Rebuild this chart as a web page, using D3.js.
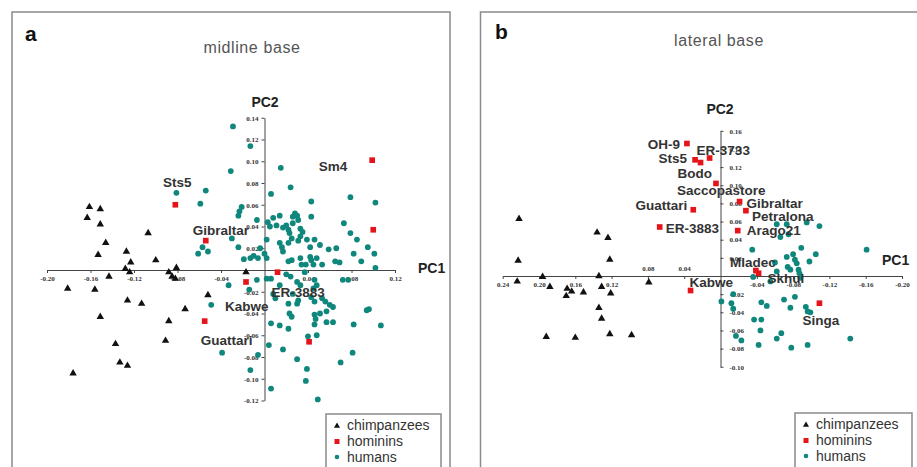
<!DOCTYPE html>
<html lang="en">
<head>
<meta charset="UTF-8">
<title>PCA cranial base</title>
<style>
    body { margin: 0; background: #fff; }
    svg { display: block; font-family: "Liberation Sans", Arial, sans-serif; }
    .frame { fill: none; stroke: #8a8a8a; stroke-width: 1.5px; }
    .axis path, .axis line { stroke: #444; stroke-width: 1px; }
    .axis text { font-family: "Liberation Serif", serif; font-weight: bold; font-size: 7px; fill: #333; }
    .lbl { font-size: 13.5px; font-weight: bold; fill: #333; }
    .pc { font-size: 14px; font-weight: bold; fill: #222; }
    .title { font-size: 16px; fill: #555; letter-spacing: 0.6px; }
    .letter { font-size: 21px; font-weight: bold; fill: #111; }
    .legend text { font-size: 14px; fill: #333; }
</style>
</head>
<body>

<svg width="917" height="467"></svg>

<script src="https://d3js.org/d3.v7.min.js"></script>

<script>
    // ---- panel a: midline base ----
    var aXTicks = [-0.20, -0.16, -0.12, -0.08, -0.04, 0.04, 0.08, 0.12];
    var aYTicks = [-0.12, -0.10, -0.08, -0.06, -0.04, -0.02, 0.02, 0.04, 0.06, 0.08, 0.10, 0.12, 0.14];

    var aChimps = [
        [-0.161, 0.058], [-0.151, 0.056], [-0.163, 0.048], [-0.151, 0.042], [-0.107, 0.034],
        [-0.146, 0.025], [-0.127, 0.017], [-0.153, 0.014], [-0.100, 0.009], [-0.123, 0.007],
        [-0.128, 0.001], [-0.124, -0.002], [-0.143, -0.006], [-0.088, -0.002], [-0.081, 0.002],
        [-0.085, -0.006], [-0.082, -0.008], [-0.181, -0.017], [-0.156, -0.018], [-0.126, -0.028],
        [-0.113, -0.031], [-0.073, -0.036], [-0.151, -0.043], [-0.088, -0.047], [-0.052, -0.023],
        [-0.091, -0.065], [-0.137, -0.068], [-0.133, -0.085], [-0.126, -0.088], [-0.176, -0.095],
        [-0.017, -0.002]
    ];

    var aHomininNames = ["Sm4", "Sts5", "Gibraltar", "", "ER-3883", "Kabwe", "Guattari", ""];
    var aHominins = [
        [0.099, 0.101], [-0.082, 0.060], [-0.054, 0.027], [0.100, 0.037],
        [0.012, -0.002], [-0.017, -0.011], [-0.055, -0.047], [0.041, -0.066]
    ];

    var aHumans = [
        [-0.029, 0.132], [-0.013, 0.114], [-0.031, 0.091], [0.015, 0.094], [0.024, 0.076],
        [0.006, 0.070], [-0.054, 0.073], [-0.081, 0.071], [-0.059, 0.061], [0.079, 0.067],
        [0.102, 0.062], [0.043, 0.063], [-0.021, 0.058], [-0.023, 0.054], [-0.024, 0.050],
        [-0.007, 0.046], [0.003, 0.044], [0.008, 0.048], [0.014, 0.050], [0.011, 0.041],
        [0.005, 0.040], [0.017, 0.039], [0.028, 0.052], [0.026, 0.049], [0.030, 0.050],
        [0.031, 0.046], [0.026, 0.043], [0.043, 0.049], [0.020, 0.041], [0.022, 0.037],
        [0.023, 0.034], [0.025, 0.029], [0.033, 0.038], [0.035, 0.035], [0.033, 0.031],
        [0.031, 0.027], [0.073, 0.043], [0.079, 0.034], [0.085, 0.028], [0.095, 0.021],
        [0.101, 0.015], [0.002, 0.028], [0.014, 0.025], [0.016, 0.021], [0.017, 0.017],
        [0.022, 0.025], [0.039, 0.028], [0.046, 0.028], [0.042, 0.021], [0.051, 0.023],
        [0.059, 0.019], [0.066, 0.020], [-0.030, 0.029], [-0.024, 0.021], [-0.010, 0.013],
        [-0.004, 0.020], [0.000, 0.015], [-0.057, 0.021], [-0.061, 0.015], [-0.052, 0.017],
        [-0.019, 0.010], [-0.013, 0.011], [-0.006, 0.011], [0.002, 0.011], [0.022, 0.008],
        [0.025, 0.009], [0.033, 0.011], [0.042, 0.012], [0.048, 0.011], [0.053, 0.005],
        [0.065, 0.008], [0.069, 0.007], [0.089, 0.008], [0.102, 0.002], [-0.033, -0.014],
        [0.002, -0.008], [0.006, -0.008], [0.008, -0.022], [0.010, -0.026], [0.020, -0.004],
        [0.024, -0.006], [0.030, -0.011], [0.033, -0.014], [0.046, -0.009], [0.048, -0.014],
        [0.037, -0.002], [0.072, -0.009], [0.077, -0.009], [0.014, -0.014], [0.026, -0.022],
        [0.031, -0.028], [0.030, -0.031], [0.022, -0.031], [0.043, -0.025], [0.046, -0.029],
        [0.053, -0.026], [0.056, -0.029], [0.060, -0.032], [0.063, -0.034], [0.045, -0.017],
        [-0.049, -0.032], [-0.014, -0.018], [0.057, -0.038], [0.051, -0.040], [0.023, -0.040],
        [0.025, -0.043], [0.046, -0.041], [0.047, -0.045], [0.094, -0.037], [0.096, -0.036],
        [0.057, -0.048], [0.063, -0.048], [0.006, -0.049], [0.014, -0.051], [0.022, -0.054],
        [0.046, -0.050], [0.082, -0.050], [0.107, -0.051], [0.017, -0.073], [0.004, -0.069],
        [0.040, -0.061], [0.048, -0.060], [-0.006, -0.078], [-0.039, -0.076], [0.030, -0.082],
        [0.070, -0.085], [0.081, -0.076], [-0.013, -0.092], [0.039, -0.091], [0.038, -0.102],
        [0.006, -0.109], [0.049, -0.119], [-0.007, -0.009], [0.034, 0.005], [0.038, 0.005],
        [0.043, 0.009], [0.045, 0.005], [0.082, 0.015]
    ];

    // ---- panel b: lateral base ----
    var bXTicks = [0.24, 0.20, 0.16, 0.12, 0.08, 0.04, -0.04, -0.08, -0.12, -0.16, -0.20];
    var bXTicksAbove = [0.08, 0.04];
    var bYTicks = [-0.10, -0.08, -0.06, -0.04, -0.02, 0.02, 0.04, 0.06, 0.08, 0.10, 0.12, 0.14, 0.16];

    var bChimps = [
        [0.222, 0.063], [0.136, 0.048], [0.124, 0.042], [0.223, 0.017], [0.122, 0.018],
        [0.224, -0.006], [0.196, -0.001], [0.188, -0.012], [0.169, -0.014], [0.164, -0.017],
        [0.170, -0.022], [0.151, -0.018], [0.134, 0.000], [0.131, -0.012], [0.121, -0.019],
        [0.079, -0.007], [0.134, -0.035], [0.131, -0.047], [0.192, -0.067], [0.160, -0.068],
        [0.122, -0.064], [0.098, -0.065]
    ];

    var bHomininNames = ["OH-9", "ER-3733", "Sts5", "Bodo", "Saccopastore", "Guattari", "ER-3883",
        "Gibraltar", "Petralona", "Arago21", "Mladec", "Skhul", "Kabwe", "Singa"];
    var bHominins = [
        [0.037, 0.146], [0.012, 0.130], [0.028, 0.128], [0.022, 0.125], [0.005, 0.102],
        [0.030, 0.073], [0.067, 0.054], [-0.021, 0.082], [-0.028, 0.072], [-0.019, 0.050],
        [-0.039, 0.006], [-0.042, 0.003], [0.033, -0.016], [-0.109, -0.030]
    ];

    var bHumans = [
        [-0.109, 0.055], [-0.062, 0.057], [-0.073, 0.057], [-0.095, 0.059], [-0.066, 0.043],
        [-0.075, 0.046], [-0.035, 0.029], [-0.089, 0.031], [-0.105, 0.024], [-0.080, 0.024],
        [-0.073, 0.021], [-0.082, 0.018], [-0.084, 0.014], [-0.098, 0.016], [-0.161, 0.029],
        [-0.074, 0.010], [-0.077, 0.007], [-0.086, 0.007], [-0.062, 0.005], [-0.087, 0.003],
        [-0.036, -0.001], [-0.055, -0.006], [-0.001, -0.028], [-0.012, -0.030], [-0.014, -0.036],
        [-0.014, -0.020], [-0.045, -0.029], [-0.051, -0.033], [-0.070, -0.026], [-0.082, -0.023],
        [-0.077, -0.035], [-0.094, -0.034], [-0.096, -0.039], [-0.099, -0.040], [-0.037, -0.048],
        [-0.045, -0.048], [-0.044, -0.060], [-0.067, -0.063], [-0.062, -0.069], [-0.017, -0.066],
        [-0.023, -0.071], [-0.042, -0.076], [-0.078, -0.079], [-0.096, -0.076], [-0.143, -0.069],
        [-0.088, -0.002], [-0.060, 0.015]
    ];

    var legendItems = ["chimpanzees", "hominins", "humans"];

    var teal = "#10877c", red = "#e5141b", black = "#111";
    var fmt = d => d.toFixed(2);

    var svg = d3.select("svg");
    var tri = d3.symbol().type(d3.symbolTriangle).size(24);
    var sq = d3.symbol().type(d3.symbolSquare).size(32);

    function drawPanel(p) {
        var g = svg.append("g");
        var x = d3.scaleLinear().domain(p.xDomain).range(p.xRange);
        var y = d3.scaleLinear().domain(p.yDomain).range(p.yRange);

        g.append("rect").attr("class", "frame")
            .attr("x", p.frame[0]).attr("y", p.frame[1])
            .attr("width", p.frame[2]).attr("height", p.frame[3]);

        g.append("text").attr("class", "letter")
            .attr("x", p.letterPos[0]).attr("y", p.letterPos[1]).text(p.letter);
        g.append("text").attr("class", "title").attr("text-anchor", "middle")
            .attr("x", p.titlePos[0]).attr("y", p.titlePos[1]).text(p.title);

        var xAxis = g.append("g").attr("class", "axis")
            .attr("transform", `translate(0, ${y(0)})`)
            .call(d3.axisBottom(x).tickValues(p.xTicks).tickFormat(fmt)
                .tickSize(3).tickSizeOuter(0).tickPadding(3));
        if (p.xAbove) {
            xAxis.selectAll(".tick").filter(d => p.xAbove.includes(d)).select("text")
                .attr("y", -5).attr("dy", "0");
        }

        var yAx = p.yRight ? d3.axisRight(y) : d3.axisLeft(y);
        g.append("g").attr("class", "axis")
            .attr("transform", `translate(${x(0)}, 0)`)
            .call(yAx.tickValues(p.yTicks).tickFormat(fmt)
                .tickSize(3).tickSizeOuter(0).tickPadding(p.yRight ? 6 : 3));

        g.selectAll(".axis text").style("font-size", "7px");

        g.append("text").attr("class", "pc")
            .attr("x", p.pc1Pos[0]).attr("y", p.pc1Pos[1]).text("PC1");
        g.append("text").attr("class", "pc").attr("text-anchor", "middle")
            .attr("x", p.pc2Pos[0]).attr("y", p.pc2Pos[1]).text("PC2");

        g.append("g").selectAll("path").data(p.chimps).join("path")
            .attr("d", tri).attr("fill", black)
            .attr("transform", d => `translate(${x(d[0])}, ${y(d[1])})`);

        g.append("g").selectAll("circle").data(p.humans).join("circle")
            .attr("r", 2.9).attr("fill", teal)
            .attr("cx", d => x(d[0])).attr("cy", d => y(d[1]));

        g.append("g").selectAll("path").data(p.hominins).join("path")
            .attr("d", sq).attr("fill", red)
            .attr("transform", d => `translate(${x(d[0])}, ${y(d[1])})`);

        g.append("g").selectAll("text").data(p.hominins).join("text")
            .attr("class", "lbl")
            .each(function (d, i) {
                var name = p.names[i];
                var o = p.offsets[name];
                if (!name || !o) return;
                d3.select(this)
                    .attr("x", x(d[0]) + o[0]).attr("y", y(d[1]) + o[1])
                    .attr("text-anchor", o[2]).text(name);
            });

        // legend
        var lg = g.append("g").attr("class", "legend");
        lg.append("rect").attr("class", "frame")
            .attr("x", p.legend[0]).attr("y", p.legend[1])
            .attr("width", p.legend[2]).attr("height", 70);
        legendItems.forEach(function (name, i) {
            var cy = p.legend[1] + 11 + i * 16;
            var cx = p.legend[0] + 11;
            if (i === 0) {
                lg.append("path").attr("d", d3.symbol().type(d3.symbolTriangle).size(16))
                    .attr("fill", black).attr("transform", `translate(${cx}, ${cy + 1})`);
            } else if (i === 1) {
                lg.append("rect").attr("x", cx - 2.5).attr("y", cy - 2).attr("width", 5).attr("height", 5)
                    .attr("fill", red);
            } else {
                lg.append("circle").attr("cx", cx).attr("cy", cy).attr("r", 2.3).attr("fill", teal);
            }
            lg.append("text").attr("x", cx + 10).attr("y", cy + 5).text(name);
        });
    }

    drawPanel({
        letter: "a", letterPos: [25, 41],
        title: "midline base", titlePos: [252, 53],
        frame: [12, 12, 438, 480],
        xDomain: [-0.20, 0.12], xRange: [47, 395],
        yDomain: [-0.12, 0.14], yRange: [400.5, 117.75],
        xTicks: aXTicks, yTicks: aYTicks, yRight: false,
        pc1Pos: [418, 273], pc2Pos: [265, 107],
        chimps: aChimps, humans: aHumans, hominins: aHominins, names: aHomininNames,
        offsets: {
            "Sm4": [-25, 11, "end"], "Sts5": [2, -18, "middle"], "Gibraltar": [-13, -6, "start"],
            "ER-3883": [-6, 25, "start"], "Kabwe": [-21, 29, "start"], "Guattari": [-4, 24, "start"]
        },
        legend: [326, 414, 115]
    });

    drawPanel({
        letter: "b", letterPos: [495, 39],
        title: "lateral base", titlePos: [719, 46],
        frame: [480.5, 12, 460, 480],
        xDomain: [0.24, -0.20], xRange: [502.7, 902],
        yDomain: [-0.10, 0.16], yRange: [366.75, 130.8],
        xTicks: bXTicks, xAbove: bXTicksAbove, yTicks: bYTicks, yRight: true,
        pc1Pos: [882, 265], pc2Pos: [720, 114],
        chimps: bChimps, humans: bHumans, hominins: bHominins, names: bHomininNames,
        offsets: {
            "OH-9": [-7, 5, "end"], "ER-3733": [-13, -3, "start"], "Sts5": [-8, 3, "end"],
            "Bodo": [-23, 15, "start"], "Saccopastore": [-39, 12, "start"], "Guattari": [-6, 0, "end"],
            "ER-3883": [6, 6, "start"], "Gibraltar": [7, 6, "start"], "Petralona": [6, 10, "start"],
            "Arago21": [9, 4, "start"], "Mladec": [-26, -4, "start"], "Skhul": [9, 10, "start"],
            "Kabwe": [-1, -4, "start"], "Singa": [-17, 22, "start"]
        },
        legend: [795, 413, 117]
    });
</script>

</body>
</html>
